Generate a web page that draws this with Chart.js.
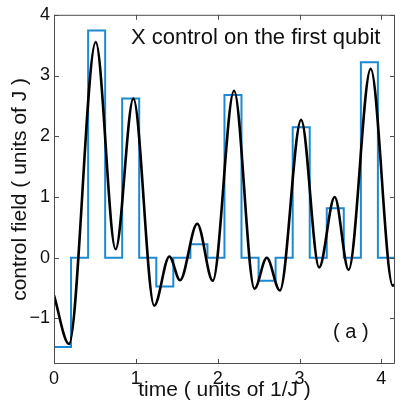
<!DOCTYPE html>
<html>
<head>
<meta charset="utf-8">
<script src="https://cdn.jsdelivr.net/npm/chart.js@4.4.1/dist/chart.umd.min.js"></script>
<style>
    html, body { margin: 0; padding: 0; background: #fff; }
    #wrap { width: 396px; height: 405px; }
</style>
</head>
<body>
<div id="wrap"><canvas id="controlChart" width="396" height="405"></canvas></div>
<script>
// Piecewise-constant pulses (blue): start time, width, amplitude
const pulseStart = [0, 0.417, 0.833, 1.25, 1.667, 2.083, 2.5, 2.917, 3.333, 3.75];
const pulseWidth = 0.208;
const pulseHeight = [-1.47, 3.74, 2.62, -0.475, 0.22, 2.68, -0.38, 2.15, 0.815, 3.22];

// Smooth control field (black): times and values
const curveT = [0, 0.183, 0.51, 0.753, 0.97, 1.225, 1.41, 1.54, 1.75, 1.94, 2.2, 2.45, 2.6, 2.76, 3.02, 3.24, 3.43, 3.6, 3.87, 4.14, 4.167];
const curveY = [-0.62, -1.42, 3.55, 0.14, 2.62, -0.79, 0.02, -0.37, 0.56, -0.38, 2.75, -0.51, 0.0, -0.54, 2.27, -0.16, 1.0, -0.2, 3.11, -0.46, -0.44];

// Axes
const xMin = 0, xMax = 4.167;
const yMin = -1.75, yMax = 4;
const xTicks = [0, 1, 2, 3, 4];
const yTicks = [-1, 0, 1, 2, 3, 4];

const FONT = '"Liberation Sans", Arial, Helvetica, sans-serif';
const BLUE = '#1b8ad2';
const FRAME = '#4d4d4d';

// Build the stairs outline from the pulses
function buildStairs() {
    const pts = [];
    pulseStart.forEach((s, i) => {
        const h = pulseHeight[i];
        pts.push({ x: s, y: 0 }, { x: s, y: h }, { x: s + pulseWidth, y: h }, { x: s + pulseWidth, y: 0 });
    });
    pts.push({ x: xMax, y: 0 });
    return pts;
}

// Box with inward ticks plus the in-plot labels
const framePlugin = {
    id: 'frame',
    afterDraw(chart) {
        const { ctx, chartArea: a, scales } = chart;
        const tl = 5;
        ctx.save();
        ctx.strokeStyle = FRAME;
        ctx.lineWidth = 1;
        ctx.beginPath();
        ctx.rect(a.left + 0.5, a.top + 0.5, a.right - a.left - 1, a.bottom - a.top - 1);
        xTicks.forEach(v => {
            const px = Math.round(scales.x.getPixelForValue(v)) + 0.5;
            ctx.moveTo(px, a.bottom); ctx.lineTo(px, a.bottom - tl);
            ctx.moveTo(px, a.top); ctx.lineTo(px, a.top + tl);
        });
        yTicks.forEach(v => {
            const py = Math.round(scales.y.getPixelForValue(v)) + 0.5;
            ctx.moveTo(a.left, py); ctx.lineTo(a.left + tl, py);
            ctx.moveTo(a.right, py); ctx.lineTo(a.right - tl, py);
        });
        ctx.stroke();

        ctx.fillStyle = '#111';
        ctx.textBaseline = 'alphabetic';
        ctx.textAlign = 'left';
        ctx.font = '22px ' + FONT;
        ctx.fillText('X control on the first qubit', a.left + 77, a.top + 29);
        ctx.font = '20px ' + FONT;
        ctx.fillText('( a )', a.left + 279, a.top + 323);
        ctx.restore();
    }
};

new Chart(document.getElementById('controlChart'), {
    type: 'scatter',
    data: {
        datasets: [
            {
                label: 'smooth field',
                data: curveT.map((t, i) => ({ x: t, y: curveY[i] })),
                showLine: true,
                borderColor: '#000',
                borderWidth: 2.6,
                pointRadius: 0,
                cubicInterpolationMode: 'monotone',
                order: 0
            },
            {
                label: 'pulses',
                data: buildStairs(),
                showLine: true,
                borderColor: BLUE,
                borderWidth: 2,
                pointRadius: 0,
                tension: 0,
                order: 1
            }
        ]
    },
    plugins: [framePlugin],
    options: {
        responsive: false,
        animation: false,
        devicePixelRatio: 1,
        layout: { padding: { top: 13, right: 1, left: 0, bottom: 0 } },
        plugins: {
            legend: { display: false },
            tooltip: { enabled: false }
        },
        scales: {
            x: {
                type: 'linear',
                min: xMin,
                max: xMax,
                grid: { display: false, drawTicks: false },
                border: { display: false },
                afterBuildTicks: s => { s.ticks = xTicks.map(v => ({ value: v })); },
                afterFit: s => { s.height = 41; },
                ticks: {
                    padding: 4,
                    color: '#111',
                    font: { family: FONT, size: 18 },
                    maxRotation: 0,
                    callback: v => String(v)
                },
                title: {
                    display: true,
                    text: 'time ( units of 1/J )',
                    color: '#111',
                    font: { family: FONT, size: 21, lineHeight: 1 },
                    padding: { top: 0, bottom: 4.5 }
                }
            },
            y: {
                type: 'linear',
                min: yMin,
                max: yMax,
                grid: { display: false, drawTicks: false },
                border: { display: false },
                afterBuildTicks: s => { s.ticks = yTicks.map(v => ({ value: v })); },
                afterFit: s => { s.width = 54; },
                ticks: {
                    padding: 4,
                    color: '#111',
                    font: { family: FONT, size: 18 },
                    callback: v => (v < 0 ? '\u2212' + Math.abs(v) : String(v))
                },
                title: {
                    display: true,
                    text: 'control field ( units of J )',
                    color: '#111',
                    font: { family: FONT, size: 21, lineHeight: 1 },
                    padding: { top: 9.5, bottom: 0 }
                }
            }
        }
    }
});
</script>
</body>
</html>
